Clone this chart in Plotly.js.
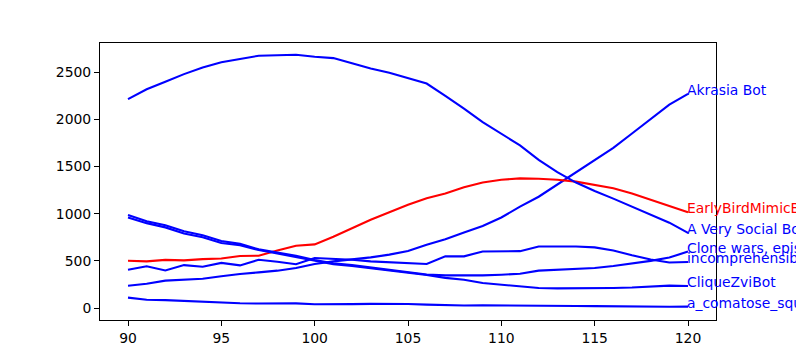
<!DOCTYPE html>
<html>
<head>
<meta charset="utf-8">
<script src="https://cdn.plot.ly/plotly-3.0.1.min.js"></script>
<style>html,body{margin:0;padding:0;background:#fff;}#chart{width:796px;height:360px;}</style>
</head>
<body>
<div id="chart"></div>
<script>
const rounds = [90,91,92,93,94,95,96,97,98,99,100,101,102,103,104,105,106,107,108,109,110,111,112,113,114,115,116,117,118,119,120];

const akrasiaBot = [237,258,290,297,311,336,361,378,396,424,467,495,512,537,566,605,670,730,800,870,960,1075,1180,1310,1440,1565,1698,1850,2000,2157,2271];
const earlyBirdMimicBot = [502,495,510,505,518,525,552,555,610,660,675,755,845,935,1015,1095,1165,1215,1280,1330,1360,1375,1370,1360,1340,1305,1270,1215,1150,1080,1015];
const aVerySocialBot = [2215,2320,2400,2480,2550,2605,2640,2675,2680,2685,2665,2650,2595,2540,2495,2440,2380,2250,2115,1970,1850,1725,1570,1440,1330,1240,1160,1075,990,905,796];
const cloneWars = [985,920,878,815,772,710,680,622,588,555,510,475,455,430,408,380,355,346,343,346,353,364,396,403,415,425,445,470,500,535,598];
const incomprehensibot = [406,442,398,455,438,479,452,512,490,465,530,522,512,495,484,477,467,548,548,600,601,603,652,654,652,643,610,560,515,482,488];
const cliqueZviBot = [960,900,855,790,750,690,665,615,578,540,500,465,445,422,402,375,350,320,300,265,247,230,212,208,208,210,213,218,225,238,234];
const aComatoseSquirrel = [110,88,84,75,62,54,50,48,49,49,40,38,41,44,46,42,36,29,27,28,28,26,24,22,21,20,18,14,8,14,15];

const seriesNames = ["Akrasia Bot","EarlyBirdMimicBot","A Very Social Bot","Clone wars, episode 2","incomprehensibot","CliqueZviBot","a_comatose_squirrel"];
const seriesValues = [akrasiaBot, earlyBirdMimicBot, aVerySocialBot, cloneWars, incomprehensibot, cliqueZviBot, aComatoseSquirrel];
const seriesColors = ["#0000ff","#ff0000","#0000ff","#0000ff","#0000ff","#0000ff","#0000ff"];

const xTicks = [90,95,100,105,110,115,120];
const yTicks = [0,500,1000,1500,2000,2500];

const font = {family: "DejaVu Sans, sans-serif", size: 13.9, color: "#000"};

const traces = seriesValues.map((v, i) => ({
  type: "scatter", mode: "lines", x: rounds, y: v, name: seriesNames[i],
  line: {color: seriesColors[i], width: 2.1}, showlegend: false, hoverinfo: "skip"
}));

const annotations = seriesValues.map((v, i) => ({
  x: rounds[rounds.length - 1], y: v[v.length - 1], xref: "x", yref: "y",
  text: seriesNames[i], showarrow: false, xanchor: "left", yanchor: "bottom",
  xshift: -2, yshift: -5, borderpad: 0,
  font: {family: font.family, size: 13.9, color: seriesColors[i]}
}));

const layout = {
  width: 796, height: 360,
  margin: {l: 100, r: 80, t: 43, b: 40, pad: 0},
  paper_bgcolor: "#fff", plot_bgcolor: "#fff",
  font: font,
  showlegend: false,
  xaxis: {
    range: [88.5, 121.5], tickvals: xTicks, ticktext: xTicks.map(String),
    ticks: "outside", ticklen: 5, tickwidth: 1, tickcolor: "#000",
    showline: true, mirror: true, linecolor: "#000", linewidth: 1,
    showgrid: false, zeroline: false, tickfont: font
  },
  yaxis: {
    range: [-127, 2810], tickvals: yTicks, ticktext: yTicks.map(String),
    ticks: "outside", ticklen: 5, tickwidth: 1, tickcolor: "#000",
    showline: true, mirror: true, linecolor: "#000", linewidth: 1,
    showgrid: false, zeroline: false, tickfont: font
  },
  annotations: annotations
};

Plotly.newPlot("chart", traces, layout, {staticPlot: true, displayModeBar: false});
</script>
</body>
</html>
